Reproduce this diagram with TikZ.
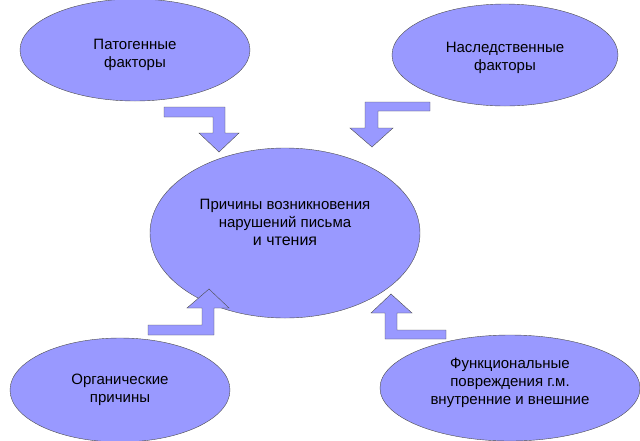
\documentclass[tikz,border=0pt]{standalone}
\usepackage{fontspec}
\setmainfont{Liberation Sans}
\usetikzlibrary{positioning}

\begin{document}
\begin{tikzpicture}[x=1pt, y=-1pt,
oval/.style={draw=black!70, fill=blob},
label/.style={align=center, font=\fontsize{15}{18}\selectfont},
bent/.style={draw=black!70, fill=blob, thin, line join=miter}
]
\definecolor{blob}{RGB}{153,153,255}
\useasboundingbox (0,0) rectangle (640,440);

\draw[oval] (135,50) ellipse (115 and 51);
\node[label](patho) at (135,55){Патогенные\\факторы};
\draw[oval] (505,55) ellipse (113 and 51);
\node[label](hered) at (505,58){Наследственные\\факторы};
\draw[oval] (285,233) ellipse (135 and 85);
\node[label](cause) at (285,222){Причины возникновения\\нарушений письма\\\fontsize{16}{18}\selectfont и чтения};
\draw[oval] (120,390) ellipse (110 and 52);
\node[label](organ) at (120,390){Органические\\причины};
\draw[oval] (510,388) ellipse (130 and 53);
\node[label](func) at (510,383){Функциональные\\повреждения г.м.\\внутренние и внешние};

% block arrows
\draw[bent] (164,107) -- (225,107) -- (225,133) -- (239,133) -- (219,152) -- (199,133) -- (213,133) -- (213,117) -- (164,117) -- cycle;
\draw[bent] (430,102) -- (365,102) -- (365,128) -- (350,128) -- (372,147) -- (393,128) -- (378,128) -- (378,111) -- (430,111) -- cycle;
\draw[bent] (148,335) -- (214,335) -- (214,308) -- (229,308) -- (209,289) -- (187,308) -- (202,308) -- (202,325) -- (148,325) -- cycle;
\draw[bent] (446,339) -- (385,339) -- (385,313) -- (371,313) -- (391,294) -- (412,313) -- (397,313) -- (397,330) -- (446,330) -- cycle;
\end{tikzpicture}
\end{document}
